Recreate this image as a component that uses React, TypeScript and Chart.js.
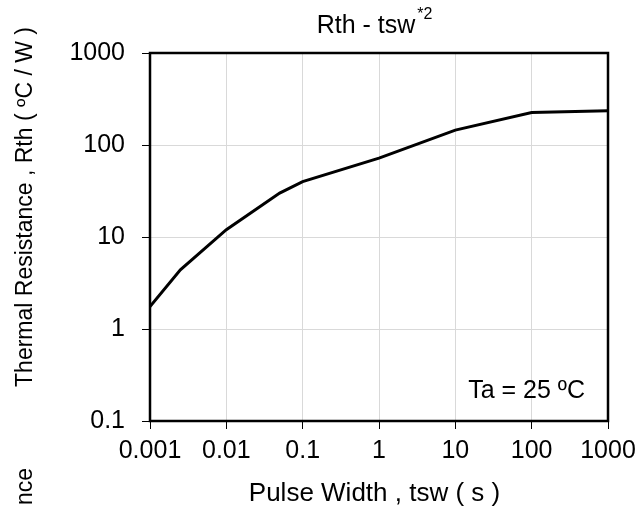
import React, { useEffect, useRef } from "react";
import { Chart, registerables } from "chart.js";

Chart.register(...registerables);

const pulseWidth = [0.001, 0.0025, 0.01, 0.05, 0.1, 1, 10, 100, 1000];
const thermalRes = [1.75, 4.4, 12, 30, 40, 72, 145, 225, 235];
const xTickValues = [0.001, 0.01, 0.1, 1, 10, 100, 1000];
const xTickLabels = ["0.001", "0.01", "0.1", "1", "10", "100", "1000"];
const yTickValues = [0.1, 1, 10, 100, 1000];
const yTickLabels = ["0.1", "1", "10", "100", "1000"];

const titleMain = "Rth - tsw";
const titleSup = "*2";
const xTitle = "Pulse Width , tsw ( s )";
const yTitle = "Thermal Resistance , Rth ( ºC / W )";
const fragment = "nce";
const note = "Ta = 25 ºC";

const FONT = "Liberation Sans, Arial, sans-serif";
const FS = 25;

const textPlugin = {
  id: "texts",
  beforeDatasetsDraw(chart: any) {
    const { ctx, chartArea } = chart;
    ctx.save();
    ctx.strokeStyle = "#000";
    ctx.lineWidth = 2.5;
    ctx.strokeRect(chartArea.left, chartArea.top, chartArea.right - chartArea.left, chartArea.bottom - chartArea.top);
    ctx.restore();
  },
  afterDraw(chart: any) {
    const { ctx, chartArea } = chart;
    ctx.save();
    ctx.fillStyle = "#000";
    // title with superscript
    ctx.font = `${FS}px ${FONT}`;
    const w = ctx.measureText(titleMain).width;
    ctx.font = `16px ${FONT}`;
    const ws = ctx.measureText(titleSup).width;
    const cx = 374.5;
    const start = cx - (w + ws + 2) / 2;
    ctx.textBaseline = "alphabetic";
    ctx.textAlign = "left";
    ctx.font = `${FS}px ${FONT}`;
    ctx.fillText(titleMain, start, 33);
    ctx.font = `16px ${FONT}`;
    ctx.fillText(titleSup, start + w + 2, 19);

    // x title
    ctx.font = `26px ${FONT}`;
    ctx.textAlign = "center";
    ctx.fillText(xTitle, 374.5, 501);

    // note
    ctx.font = `${FS}px ${FONT}`;
    ctx.textAlign = "right";
    ctx.fillText(note, chartArea.right - 23, 398);

    // y title
    ctx.font = `23px ${FONT}`;
    ctx.save();
    ctx.translate(32, 207);
    ctx.rotate(-Math.PI / 2);
    ctx.textAlign = "center";
    ctx.fillText(yTitle, 0, 0);
    ctx.restore();

    // fragment of neighbouring label
    ctx.save();
    ctx.translate(32, 468);
    ctx.rotate(-Math.PI / 2);
    ctx.textAlign = "right";
    ctx.fillText(fragment, 0, 0);
    ctx.restore();

    ctx.restore();
  },
};

export default function App() {
  const ref = useRef<HTMLCanvasElement>(null);
  useEffect(() => {
    if (!ref.current) return;
    const chart = new Chart(ref.current, {
      type: "line",
      data: {
        datasets: [
          {
            data: pulseWidth.map((x, i) => ({ x, y: thermalRes[i] })),
            borderColor: "#000",
            borderWidth: 3,
            pointRadius: 0,
            tension: 0,
            fill: false,
          },
        ],
      },
      options: {
        animation: false,
        responsive: false,
        events: [],
        layout: { padding: { left: 0, top: 53, right: 31, bottom: 0 } },
        plugins: { legend: { display: false }, tooltip: { enabled: false }, title: { display: false } },
        scales: {
          x: {
            type: "logarithmic",
            min: 0.001,
            max: 1000,
            border: { display: false },
            grid: { color: "#d9d9d9", tickColor: "#000", tickLength: 8, lineWidth: 1 },
            ticks: {
              color: "#000",
              font: { family: FONT, size: FS },
              padding: 7,
              maxRotation: 0,
              autoSkip: false,
              callback: (v: any) => {
                const i = xTickValues.findIndex((t) => Math.abs(Math.log10(t) - Math.log10(v)) < 1e-6);
                return i >= 0 ? xTickLabels[i] : "";
              },
            },
            afterBuildTicks: (s: any) => {
              s.ticks = xTickValues.map((value) => ({ value }));
            },
            afterFit: (s: any) => {
              s.height = 91;
              s.paddingLeft = 0;
              s.paddingRight = 0;
            },
          },
          y: {
            type: "logarithmic",
            min: 0.1,
            max: 1000,
            border: { display: false },
            grid: { color: "#d9d9d9", tickColor: "#000", tickLength: 8, lineWidth: 1 },
            ticks: {
              color: "#000",
              font: { family: FONT, size: FS },
              padding: 17,
              autoSkip: false,
              callback: (v: any) => {
                const i = yTickValues.findIndex((t) => Math.abs(Math.log10(t) - Math.log10(v)) < 1e-6);
                return i >= 0 ? yTickLabels[i] : "";
              },
            },
            afterBuildTicks: (s: any) => {
              s.ticks = yTickValues.map((value) => ({ value }));
            },
            afterFit: (s: any) => {
              s.width = 150;
              s.paddingTop = 0;
              s.paddingBottom = 0;
            },
          },
        },
      },
      plugins: [textPlugin],
    } as any);
    return () => chart.destroy();
  }, []);
  return (
    <div style={{ position: "absolute", left: 0, top: 0, width: 639, height: 512, background: "#fff" }}>
      <canvas ref={ref} width={639} height={512} style={{ display: "block" }} />
    </div>
  );
}
